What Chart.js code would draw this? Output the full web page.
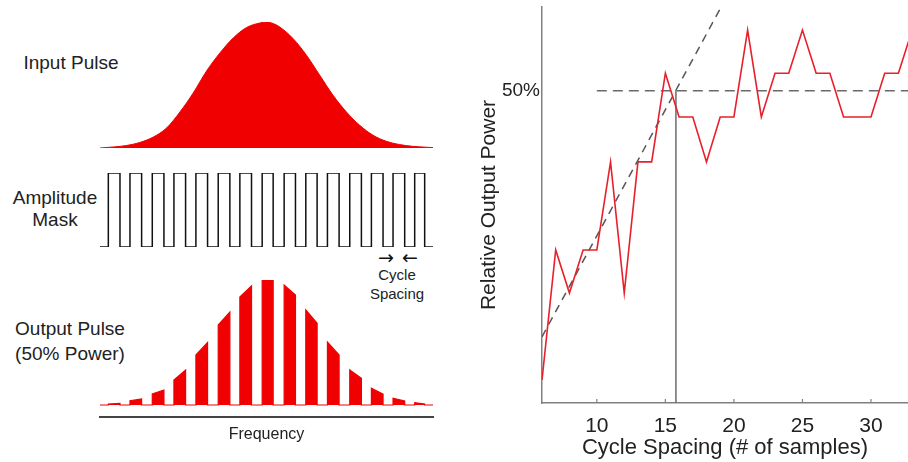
<!DOCTYPE html>
<html>
<head>
<meta charset="utf-8">
<script src="https://cdn.jsdelivr.net/npm/chart.js@4.4.1/dist/chart.umd.min.js"></script>
<style>
  body { margin: 0; background: #fff; }
  #stage { position: relative; width: 908px; height: 462px; overflow: hidden;
           font-family: 'Liberation Sans', Arial, sans-serif; color: #222; }
  canvas { position: absolute; }
  .lbl { position: absolute; text-align: center; white-space: nowrap; }
  .arrow { position: absolute; text-align: center; font-family: 'DejaVu Sans', sans-serif;
           font-size: 19px; line-height: 18px; width: 24px; color: #111; }
</style>
</head>
<body>
<div id="stage">
  <div class="lbl" style="left:0;top:52px;width:142px;font-size:19px;line-height:22px">Input Pulse</div>
  <div class="lbl" style="left:0;top:187px;width:110px;font-size:19px;line-height:22px">Amplitude<br>Mask</div>
  <div class="lbl" style="left:0;top:316px;width:140px;font-size:19px;line-height:25px">Output Pulse<br>(50% Power)</div>
  <div class="arrow" style="left:374px;top:248px">&rarr;</div>
  <div class="arrow" style="left:398px;top:248px">&larr;</div>
  <div class="lbl" style="left:357px;top:265px;width:80px;font-size:15px;line-height:19px">Cycle<br>Spacing</div>

  <canvas id="inputChart" width="342" height="138" style="left:96px;top:14px"></canvas>
  <canvas id="maskChart" width="342" height="88" style="left:96px;top:166px"></canvas>
  <canvas id="outputChart" width="342" height="180" style="left:96px;top:272px"></canvas>
  <canvas id="powerChart" width="432" height="462" style="left:476px;top:0"></canvas>
</div>

<script>
// ---- left panels: spectrum in frequency units 0..20 ----
const pulseX = [0, 0.8, 1.6, 2.4, 3.2, 4.0, 4.8, 5.6, 6.4, 7.2, 8.0, 8.8, 9.6, 10.0,
                10.4, 10.8, 11.6, 12.4, 13.2, 14.0, 14.8, 15.6, 16.4, 17.2, 18.0, 18.8, 19.6, 20.0];
const pulseAmp = [0, 0.008, 0.02, 0.044, 0.087, 0.159, 0.286, 0.437, 0.611, 0.754, 0.873, 0.956, 0.992, 1.0,
                  0.988, 0.96, 0.868, 0.736, 0.577, 0.418, 0.286, 0.18, 0.101, 0.053, 0.027, 0.013, 0.006, 0.003];

// mask "on" windows
const maskRise = [0.5, 1.8, 3.14, 4.44, 5.76, 7.1, 8.4, 9.74, 11.06, 12.36, 13.66, 15.0, 16.3, 17.6, 18.9];
const maskFall = [1.2, 2.5, 3.84, 5.14, 6.46, 7.8, 9.1, 10.4, 11.74, 13.04, 14.36, 15.7, 17.0, 18.3, 19.5];

// output slice heights at the left / right edge of each window
const outLeft  = [0.008, 0.034, 0.088, 0.2, 0.4, 0.64, 0.864, 1.0, 0.96, 0.76, 0.504, 0.28, 0.134, 0.054, 0.018];
const outRight = [0.012, 0.048, 0.12, 0.28, 0.5, 0.744, 0.952, 1.0, 0.88, 0.654, 0.4, 0.214, 0.088, 0.032, 0.008];

// ---- right panel ----
const cycleSpacing = [6, 7, 8, 9, 10, 11, 12, 13, 14, 15, 16, 17, 18, 19, 20,
                      21, 22, 23, 24, 25, 26, 27, 28, 29, 30, 31, 32, 33];
const relPower = [3.7, 24.5, 17.6, 24.5, 24.5, 38.6, 17.6, 38.6, 38.6, 52.8, 45.8, 45.8, 38.6, 45.8, 45.8,
                  59.7, 45.8, 52.8, 52.8, 59.7, 52.8, 52.8, 45.8, 45.8, 45.8, 52.8, 52.8, 59.7];
const xTicks = [10, 15, 20, 25, 30];
const yTicks = [50];
const xRange = [6, 32.7];
const yRange = [0, 63.4];
const halfPower = 50;
const halfStart = 10;
const crossX = 15.77;
const fitX = [6, 19.07];
const fitY = [10.6, 63.4];

const RED = '#f00000';
const FONT = "'Liberation Sans', Arial, sans-serif";

function hiddenScales(yMin) {
    return {
        x: { type: 'linear', min: 0, max: 20, display: false },
        y: { type: 'linear', min: yMin, max: 1, display: false }
    };
}

const baseOpts = {
    responsive: false,
    animation: false,
    events: [],
    plugins: { legend: { display: false }, tooltip: { enabled: false } }
};

// Input pulse
new Chart(document.getElementById('inputChart'), {
    type: 'line',
    data: {
        datasets: [{
            data: pulseX.map((x, i) => ({ x, y: pulseAmp[i] })),
            borderColor: RED,
            backgroundColor: RED,
            borderWidth: 1,
            fill: 'origin',
            pointRadius: 0,
            cubicInterpolationMode: 'monotone'
        }]
    },
    options: { ...baseOpts, layout: { padding: { left: 4, right: 5, top: 8, bottom: 4 } }, scales: hiddenScales(0) }
});

// Amplitude mask
const maskPoints = [{ x: 0, y: 0 }];
maskRise.forEach((r, i) => {
    maskPoints.push({ x: r, y: 1 }, { x: maskFall[i], y: 0 });
});
maskPoints.push({ x: 20, y: 0 });

new Chart(document.getElementById('maskChart'), {
    type: 'line',
    data: {
        datasets: [{
            data: maskPoints,
            borderColor: '#111',
            borderWidth: 1.5,
            stepped: 'before',
            pointRadius: 0,
            fill: false
        }]
    },
    options: { ...baseOpts, layout: { padding: { left: 4, right: 5, top: 7, bottom: 7 } }, scales: hiddenScales(0) }
});

// Output pulse = slices
const outPoints = [{ x: 0, y: 0 }];
maskRise.forEach((r, i) => {
    outPoints.push({ x: r, y: 0 }, { x: r, y: outLeft[i] }, { x: maskFall[i], y: outRight[i] }, { x: maskFall[i], y: 0 });
});
outPoints.push({ x: 20, y: 0 });

new Chart(document.getElementById('outputChart'), {
    type: 'line',
    data: {
        datasets: [{
            data: outPoints,
            borderColor: RED,
            backgroundColor: RED,
            borderWidth: 1.2,
            fill: 'origin',
            pointRadius: 0,
            tension: 0
        }]
    },
    options: {
        ...baseOpts,
        layout: { padding: { left: 4, right: 5, top: 8, bottom: 0 } },
        scales: {
            x: {
                type: 'linear', min: 0, max: 20,
                grid: { display: true, drawOnChartArea: false, drawTicks: false },
                border: { color: '#444', width: 2 },
                ticks: { display: false },
                title: { display: true, text: 'Frequency', color: '#222',
                         font: { family: FONT, size: 16 }, padding: { top: 0, bottom: 8 } },
                afterFit: s => { s.height = 35; }
            },
            y: { type: 'linear', min: -0.096, max: 1, display: false }
        }
    }
});

// inward tick marks on the x axis
const innerTicks = {
    id: 'innerTicks',
    afterDatasetsDraw(chart) {
        const { ctx, chartArea, scales: { x } } = chart;
        ctx.save();
        ctx.strokeStyle = '#808080';
        ctx.lineWidth = 1.2;
        xTicks.forEach(v => {
            const px = x.getPixelForValue(v);
            ctx.beginPath();
            ctx.moveTo(px, chartArea.bottom);
            ctx.lineTo(px, chartArea.bottom - 4);
            ctx.stroke();
        });
        ctx.restore();
    }
};

function noEdgePadding(s) {
    s.paddingTop = 0;
    s.paddingBottom = 0;
    s.paddingLeft = 0;
    s.paddingRight = 0;
}

new Chart(document.getElementById('powerChart'), {
    type: 'line',
    data: {
        datasets: [
            {
                data: cycleSpacing.map((x, i) => ({ x, y: relPower[i] })),
                borderColor: '#e8202a',
                borderWidth: 1.6,
                pointRadius: 0,
                tension: 0
            },
            {
                data: [{ x: halfStart, y: halfPower }, { x: xRange[1], y: halfPower }],
                borderColor: '#6a6a6a',
                borderWidth: 1.5,
                borderDash: [10, 6],
                pointRadius: 0
            },
            {
                data: fitX.map((x, i) => ({ x, y: fitY[i] })),
                borderColor: '#555',
                borderWidth: 1.5,
                borderDash: [8, 6],
                pointRadius: 0
            },
            {
                data: [{ x: crossX, y: yRange[0] }, { x: crossX, y: halfPower }],
                borderColor: '#6a6a6a',
                borderWidth: 1.5,
                pointRadius: 0
            }
        ]
    },
    options: {
        ...baseOpts,
        layout: { padding: { left: 0, right: 0, top: 7, bottom: 0 } },
        scales: {
            x: {
                type: 'linear', min: xRange[0], max: xRange[1],
                afterBuildTicks: s => { s.ticks = xTicks.map(v => ({ value: v })); },
                afterFit: s => { s.height = 59; noEdgePadding(s); },
                grid: { display: true, drawOnChartArea: false, drawTicks: false },
                border: { color: '#808080', width: 1.5 },
                ticks: { color: '#222', font: { family: FONT, size: 21 }, padding: 11, maxRotation: 0, autoSkip: false },
                title: { display: true, text: 'Cycle Spacing (# of samples)', color: '#222',
                         font: { family: FONT, size: 22 }, padding: { top: 0, bottom: 1 } }
            },
            y: {
                type: 'linear', min: yRange[0], max: yRange[1],
                afterBuildTicks: s => { s.ticks = yTicks.map(v => ({ value: v })); },
                afterFit: s => { s.width = 66; noEdgePadding(s); },
                grid: { display: true, drawOnChartArea: false, drawTicks: false },
                border: { color: '#808080', width: 1.5 },
                ticks: { color: '#222', font: { family: FONT, size: 19 }, padding: 2, callback: v => v + '%' },
                title: { display: true, text: 'Relative Output Power', color: '#222',
                         font: { family: FONT, size: 21 }, padding: { top: 1, bottom: 0 } }
            }
        }
    },
    plugins: [innerTicks]
});
</script>
</body>
</html>
